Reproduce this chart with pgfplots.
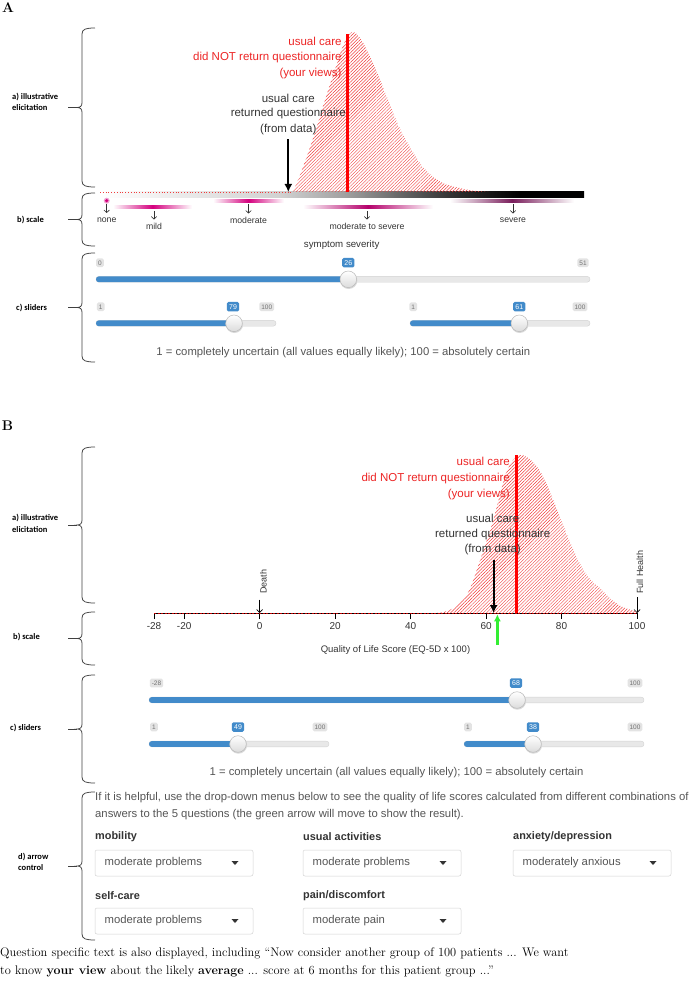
\documentclass[border=0pt]{standalone}
\usepackage{fontspec}
\usepackage{pgfplots}
\pgfplotsset{compat=1.18}
\usetikzlibrary{patterns.meta,arrows.meta}
\newfontfamily\arial{Liberation Sans}
\newfontfamily\calibri{Carlito}
\definecolor{sblue}{HTML}{428BCA}
\definecolor{trackgray}{HTML}{E8E8E8}
\definecolor{lblgray}{HTML}{E3E3E3}
\definecolor{txtgray}{HTML}{555555}
\definecolor{dark}{HTML}{333333}
\definecolor{mag}{HTML}{D4007E}
\definecolor{darkmag}{HTML}{7A1E5C}
\definecolor{hatchred}{HTML}{F03C3C}
\definecolor{txtred}{HTML}{EC2424}
\definecolor{greenarrow}{HTML}{33EE33}
\newcommand{\fs}[1]{\fontsize{#1}{#1}\selectfont}
% slider track: x0, x1, y, knob x
\newcommand{\track}[4]{%
  \draw[gray!35, fill=trackgray, line width=0.4pt, rounded corners=2.8pt] (#1,#3-2.9) rectangle (#2,#3+2.9);
  \fill[sblue, rounded corners=2.8pt] (#1,#3-2.9) rectangle (#4,#3+2.9);
  \fill[black!15] (#4+0.4,#3+1) circle (8.7);
  \shade[top color=white, bottom color=gray!28] (#4,#3) circle (8.3);
  \draw[gray!55, line width=0.5pt] (#4,#3) circle (8.3);
}
\newcommand{\lbl}[3]{\node[fill=lblgray, rounded corners=1.5pt, inner xsep=2pt, inner ysep=1.6pt, text height=5pt, text depth=0.4pt, font=\arial\fs{6.5}, text=black!55] at (#1,#2) {#3};}
\newcommand{\vlbl}[3]{\node[fill=sblue, rounded corners=1.5pt, inner xsep=2.2pt, inner ysep=1.9pt, text height=5.3pt, text depth=0.4pt, font=\arial\fs{7}, text=white] at (#1,#2) {#3};}
% brace: top, bottom
\newcommand{\mybrace}[2]{%
  \pgfmathsetmacro{\m}{(#1+#2)/2}%
  \draw[black!75, line width=0.75pt] (95,#1) .. controls (86,#1) and (82,#1+1) .. (82,#1+6) -- (82,\m-5) .. controls (82,\m-1.5) and (80.5,\m) .. (77,\m) .. controls (80.5,\m) and (82,\m+1.5) .. (82,\m+5) -- (82,#2-6) .. controls (82,#2-1) and (86,#2) .. (95,#2);
  \draw[black!75, line width=0.75pt] (68,\m) -- (77,\m);
}
\newcommand{\sidelbl}[3]{\node[anchor=west, font=\calibri\bfseries\fs{8.5}] at (#1,#2) {#3};}
\newcommand{\pinkbar}[5]{\shade[left color=white, right color=white, middle color=#5] (#1,#3-1.5) rectangle (#2,#3+1.5);}
\newcommand{\sarrow}[4]{%
  \draw[dark, line width=0.6pt, -{Straight Barb[length=2.6pt,width=5.5pt]}] (#1,#2) -- (#1,#3);
  \node[font=\arial\fs{8.7}, text=dark] at (#1,#3+7) {#4};}
\newcommand{\dropdown}[3]{%
  \draw[gray!35, line width=0.5pt, rounded corners=2pt] (#1,#2) rectangle (#1+158,#2+26);
  \node[anchor=west, font=\arial\fs{11.3}, text=txtgray] at (#1+9.5,#2+13) {#3};
  \fill[dark] (#1+136.5,#2+11) -- (#1+143.5,#2+11) -- (#1+140,#2+15) -- cycle;}

\pgfplotstableread{
u h
20.3 0
21.35 0.156
22.6 0.37
23.66 0.575
24.8 0.78
25.6 0.92
26.5 1.0
27.5 0.95
28.9 0.78
30.3 0.575
31.75 0.37
33.96 0.156
36.1 0.056
38.9 0.012
41 0
}\curveA
\pgfplotstableread{
u h
47 0
50 0.015
53 0.06
55.6 0.146
58.7 0.354
61.7 0.57
64 0.78
65.3 0.886
67 0.965
69 1.0
71 0.985
73 0.94
74.6 0.886
76.7 0.78
80.2 0.57
84 0.354
87 0.23
90.7 0.146
93 0.09
96 0.04
100 0.008
}\curveB

\begin{document}
\begin{tikzpicture}[x=1pt,y=-1pt, every node/.style={inner sep=0pt}]
\useasboundingbox (0,0) rectangle (690,992);

%%%%%%%%%%%%%%%% PANEL A
\node[font=\bfseries\fs{14}] at (8,8) {A};
\mybrace{28}{187}
\sidelbl{12}{97}{a) illustrative}
\sidelbl{12}{108}{elicitation}
\mybrace{193}{246}
\sidelbl{17}{220}{b) scale}
\mybrace{253}{362}
\sidelbl{16}{308}{c) sliders}

% gradient scale bar
\shade[left color=white, right color=black!18] (100,192) rectangle (280.5,197.5);
\shade[left color=black!18, right color=black!38] (280,192) rectangle (347.5,197.5);
\shade[left color=black!38, right color=black!80] (347,192) rectangle (450.5,197.5);
\shade[left color=black!80, right color=black] (450,192) rectangle (520.5,197.5);
\shade[left color=black, right color=black] (520,192) rectangle (584,197.5);

\begin{scope}[x=1pt,y=1pt]
\begin{axis}[at={(100pt,-192pt)}, anchor=south west, width=485pt, height=160pt,
  scale only axis, xmin=0, xmax=51, ymin=0, ymax=1, hide axis, clip=false]
\addplot[draw=none, pattern={Lines[angle=45,distance=2.3pt,line width=0.45pt]}, pattern color=hatchred, smooth]
  table[x=u,y=h] {\curveA} \closedcycle;
\addplot[hatchred, line width=0.8pt, dash pattern=on 0.8pt off 2pt] coordinates {(0,0) (20.3,0)};
\addplot[red, line width=2.7pt] coordinates {(26,0) (26,0.99)};
\addplot[black, line width=2pt, -{Latex[length=8pt,width=8pt]}] coordinates {(19.8,0.33) (19.8,0)};
\end{axis}
\end{scope}

\node[anchor=east, font=\arial\fs{11.5}, text=txtred] at (341.7,41) {usual care};
\node[anchor=east, font=\arial\fs{11.5}, text=txtred] at (341.7,57.3) {did NOT return questionnaire};
\node[anchor=east, font=\arial\fs{11.5}, text=txtred] at (341.7,74) {(your views)};
\node[font=\arial\fs{11.5}, text=dark] at (288.3,98.3) {usual care};
\node[font=\arial\fs{11.5}, text=dark] at (288.3,113.3) {returned questionnaire};
\node[font=\arial\fs{11.5}, text=dark] at (288.3,129.3) {(from data)};

% severity scale
\fill[mag!35] (106.7,200.7) circle (3);
\fill[mag] (106.7,200.7) circle (1.8);
\sarrow{106.7}{204}{213}{none}
\pinkbar{113}{192}{207.3}{}{mag}
\sarrow{154}{211}{219.5}{mild}
\pinkbar{213}{284}{200.7}{}{mag}
\sarrow{248.5}{204.5}{213.5}{moderate}
\pinkbar{303}{433}{207.3}{}{mag!85!black}
\sarrow{367}{211}{219.5}{moderate to severe}
\pinkbar{450}{574}{200.7}{}{darkmag}
\sarrow{513}{204.5}{213.5}{severe}
\node[font=\arial\fs{9.7}, text=dark] at (341.7,245) {symptom severity};

% sliders A
\lbl{100}{262.7}{0}
\lbl{583}{262.7}{51}
\track{96}{590}{279.3}{348.3}
\vlbl{348.3}{262.7}{26}
\lbl{100.7}{306.7}{1}
\lbl{266.7}{306.7}{100}
\track{96}{276}{323.3}{234}
\vlbl{233}{306.7}{79}
\lbl{413.3}{306.7}{1}
\lbl{580}{306.7}{100}
\track{410}{590}{323.3}{519.3}
\vlbl{519.3}{306.7}{61}
\node[font=\arial\fs{11.3}, text=txtgray] at (343.3,352.7) {1 = completely uncertain (all values equally likely); 100 = absolutely certain};

%%%%%%%%%%%%%%%% PANEL B
\node[font=\bfseries\fs{14}] at (7.5,426) {B};
\mybrace{447}{603}
\sidelbl{12}{518}{a) illustrative}
\sidelbl{12}{530}{elicitation}
\mybrace{612}{665}
\sidelbl{13}{637}{b) scale}
\mybrace{675}{783}
\sidelbl{10}{728}{c) sliders}
\mybrace{792}{940}
\sidelbl{18}{857}{d) arrow}
\sidelbl{18}{868}{control}

\begin{scope}[x=1pt,y=1pt]
\begin{axis}[at={(154pt,-613pt)}, anchor=south west, width=483pt, height=158pt,
  scale only axis, xmin=-28, xmax=100, ymin=0, ymax=1, clip=false,
  axis x line=bottom, axis y line=none,
  axis line style={black, line width=0.6pt, -},
  xtick={-28,-20,0,20,40,60,80,100},
  xticklabels={-28,-20,0,20,40,60,80,100},
  tick align=outside, major tick length=6pt,
  tick style={black, line width=0.6pt},
  xticklabel style={font=\arial\fs{10}, text=dark, anchor=north, yshift=-3pt},
  xlabel={Quality of Life Score (EQ-5D x 100)},
  xlabel style={font=\arial\fs{9.5}, text=dark, at={(axis description cs:0.5,0)}, anchor=center, yshift=-37pt}]
\addplot[draw=none, pattern={Lines[angle=45,distance=2.3pt,line width=0.45pt]}, pattern color=hatchred, smooth]
  table[x=u,y=h] {\curveB} \closedcycle;
\addplot[red!75!black, line width=0.6pt, dash pattern=on 2pt off 1.5pt] coordinates {(-28,0) (100,0)};
\addplot[red, line width=3pt] coordinates {(68,0) (68,1)};
\addplot[black, line width=2pt, -{Latex[length=8pt,width=8pt]}] coordinates {(62,0.335) (62,0)};
\addplot[greenarrow, line width=2.5pt, -{Latex[length=7pt,width=7pt]}] coordinates {(63,-0.2025) (63,-0.008)};
\addplot[black, line width=0.7pt, -{Straight Barb[length=3pt,width=6pt]}] coordinates {(0,0.085) (0,0)};
\addplot[black, line width=0.7pt, -{Straight Barb[length=3pt,width=6pt]}] coordinates {(100,0.1) (100,0)};
\node[rotate=90, anchor=base west, font=\arial\fs{9}, text=dark] at (axis cs:1.85,0.12) {Death};
\node[rotate=90, anchor=base west, font=\arial\fs{9}, text=dark] at (axis cs:101.6,0.12) {Full Health};
\end{axis}
\end{scope}

\node[anchor=east, font=\arial\fs{11.5}, text=txtred] at (510,461) {usual care};
\node[anchor=east, font=\arial\fs{11.5}, text=txtred] at (510,478.3) {did NOT return questionnaire};
\node[anchor=east, font=\arial\fs{11.5}, text=txtred] at (510,495) {(your views)};
\node[font=\arial\fs{11.5}, text=dark] at (492.7,518.3) {usual care};
\node[font=\arial\fs{11.5}, text=dark] at (492.7,534.3) {returned questionnaire};
\node[font=\arial\fs{11.5}, text=dark] at (492.7,550) {(from data)};

% sliders B
\lbl{156.5}{683}{-28}
\lbl{635}{683}{100}
\track{149}{644}{700}{517}
\vlbl{516}{683}{68}
\lbl{154}{727}{1}
\lbl{320}{727}{100}
\track{149}{329}{744}{238}
\vlbl{238}{727}{49}
\lbl{468}{727}{1}
\lbl{635}{727}{100}
\track{464}{644}{744}{533}
\vlbl{533}{727}{38}
\node[font=\arial\fs{11.3}, text=txtgray] at (396.5,773) {1 = completely uncertain (all values equally likely); 100 = absolutely certain};

% arrow control
\node[anchor=west, font=\arial\fs{11.3}, text=txtgray] at (95,797.7) {If it is helpful, use the drop-down menus below to see the quality of life scores calculated from different combinations of};
\node[anchor=west, font=\arial\fs{11.3}, text=txtgray] at (95,814.5) {answers to the 5 questions (the green arrow will move to show the result).};
\node[anchor=west, font=\arial\bfseries\fs{10.9}, text=dark] at (95,837) {mobility};
\node[anchor=west, font=\arial\bfseries\fs{10.9}, text=dark] at (303,837) {usual activities};
\node[anchor=west, font=\arial\bfseries\fs{10.9}, text=dark] at (513,837) {anxiety/depression};
\dropdown{95}{850}{moderate problems}
\dropdown{303}{850}{moderate problems}
\dropdown{513}{850}{moderately anxious}
\node[anchor=west, font=\arial\bfseries\fs{10.9}, text=dark] at (95,895.5) {self-care};
\node[anchor=west, font=\arial\bfseries\fs{10.9}, text=dark] at (303,895.5) {pain/discomfort};
\dropdown{95}{908}{moderate problems}
\dropdown{303}{908}{moderate pain}

\node[anchor=west, font=\fs{12.4}] at (0,953) {Question specific text is also displayed, including “Now consider another group of 100 patients ... We want};
\node[anchor=west, font=\fs{12.4}] at (0,971) {to know \textbf{your view} about the likely \textbf{average} ... score at 6 months for this patient group ...”};
\end{tikzpicture}
\end{document}
